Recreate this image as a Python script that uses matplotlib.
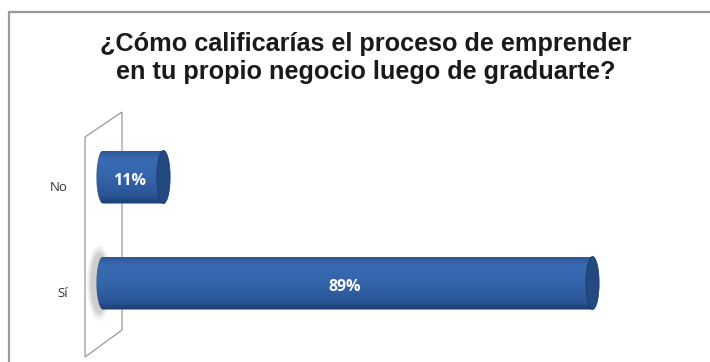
import numpy as np
import matplotlib.pyplot as plt
from matplotlib.patches import Polygon, Ellipse, PathPatch
from matplotlib.path import Path
from matplotlib.colors import LinearSegmentedColormap
import matplotlib.transforms as mtransforms

# Data
categories = ['Sí', 'No']
values = [89, 11]
labels = ['89%', '11%']
title = '¿Cómo calificarías el proceso de emprender\nen tu propio negocio luego de graduarte?'

W, H = 710, 362
fig = plt.figure(figsize=(W / 100, H / 100), dpi=100)

# background layer in pixel coordinates (frame, wall, title)
bg = fig.add_axes([0, 0, 1, 1])
bg.set_xlim(0, W)
bg.set_ylim(H, 0)
bg.axis('off')
bg.plot([9, 9, W + 5], [H + 5, 12, 12], color='#9a9a9a', lw=1.6, solid_capstyle='butt')
wall = Polygon([[85, 137], [122, 112], [122, 330], [85, 357]], closed=True,
               facecolor='white', edgecolor='#9a9a9a', lw=0.9)
bg.add_patch(wall)
bg.text(366, 58, title, ha='center', va='center', fontsize=18.2, fontweight='bold',
        family='Liberation Sans', color='#1a1a1a', linespacing=1.2)

# bar axes
ppu = 5.5   # pixels per percent
x0 = 103    # pixel position of value 0
xmin = -6
ax = fig.add_axes([(x0 + xmin * ppu) / W, 1 - 346.6 / H, (100 - xmin) * ppu / W, 233.2 / H])
ax.patch.set_alpha(0)
for s in ax.spines.values():
    s.set_visible(False)
ax.set_xticks([])
ax.set_yticks(range(len(categories)))
ax.set_yticklabels(categories, family='Open Sans', fontsize=9.5, color='#333333')
ax.tick_params(axis='y', length=0, pad=0)
off = mtransforms.ScaledTranslation(-0.02, -0.09, fig.dpi_scale_trans)
for lbl in ax.get_yticklabels():
    lbl.set_transform(lbl.get_transform() + off)

h = 0.5
cap = 1.2  # half width of cylinder cap in x units
grad = np.linspace(0, 1, 64).reshape(-1, 1)
cmap = LinearSegmentedColormap.from_list('cyl', [
    (0.0, '#1b3d72'), (0.15, '#2a5596'), (0.55, '#3566ad'),
    (0.85, '#3a6bb2'), (1.0, '#2c5999')])

for i, (v, lab) in enumerate(zip(values, labels)):
    yc = i
    if i == 0:
        # soft shadow at left end
        for k, a in enumerate([0.07, 0.1, 0.14]):
            e = Ellipse((-0.7, yc), 2 * cap + 2.0 - 0.6 * k, h + 0.2 - 0.06 * k,
                        facecolor='#555555', edgecolor='none', alpha=a, zorder=1)
            ax.add_patch(e)
    t = np.linspace(np.pi / 2, 3 * np.pi / 2, 40)
    left = np.column_stack([cap * np.cos(t), yc + h / 2 * np.sin(t)])
    verts = np.vstack([left, [[v, yc - h / 2], [v, yc + h / 2], left[0]]])
    clip = PathPatch(Path(verts), facecolor='none', edgecolor='none')
    ax.add_patch(clip)
    im = ax.imshow(grad, extent=(-cap, v, yc - h / 2, yc + h / 2), origin='lower',
                   cmap=cmap, aspect='auto', zorder=2)
    im.set_clip_path(clip)
    capp = Ellipse((v, yc), 2 * cap, h, facecolor='#24497f', edgecolor='#1c3c6c',
                   lw=0.6, zorder=3)
    ax.add_patch(capp)
    ax.text(v / 2 - 0.6, yc - 0.04, lab, ha='center', va='center', color='white',
            fontsize=11.5, fontweight='bold', family='Open Sans', zorder=4)

ax.set_xlim(xmin, 100)
ax.set_ylim(-0.6, 1.6)
fig.savefig('out.png', dpi=100)
